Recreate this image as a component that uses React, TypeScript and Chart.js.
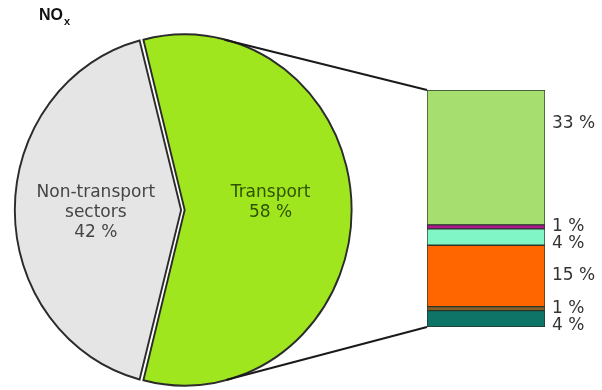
import React, { useEffect, useRef } from 'react';
import { Chart, registerables } from 'chart.js';

Chart.register(...registerables);

// ---- data ----
const pieCategories = ['Non-transport sectors', 'Transport'];
const pieValues = [42, 58];
const pieLabelLines = [['Non-transport', 'sectors'], ['Transport']];
const pieColors = ['#e5e5e5', '#a0e61e'];
const pieTextColors = ['#454545', '#2f5200'];
const pieOffsets = [8, 7];

// transport breakdown, listed bottom to top of the stacked bar
const transportParts = ['Part F', 'Part E', 'Part D', 'Part C', 'Part B', 'Part A'];
const transportValues = [4, 1, 15, 4, 1, 33];
const transportColors = ['#0f7468', '#86602a', '#ff6600', '#80f5c6', '#b01891', '#a6df6f'];

const X_SCALE = 0.95;
const FONT = '"DejaVu Sans", Verdana, sans-serif';

function arcCenter(arc: any) {
  const p = arc.getProps(['x', 'y', 'startAngle', 'endAngle', 'outerRadius'], true);
  const off = (arc.options.offset || 0) / 4;
  const circ = p.endAngle - p.startAngle;
  const fix = 1 - Math.sin(Math.min(Math.PI, circ));
  const t = off * (1 + fix);
  const half = (p.startAngle + p.endAngle) / 2;
  return {
    anchor: p.x,
    gx: p.x + Math.cos(half) * t,
    gy: p.y + Math.sin(half) * t,
    half,
    r: p.outerRadius,
  };
}

export default function App() {
  const pieRef = useRef<HTMLCanvasElement>(null);
  const barRef = useRef<HTMLCanvasElement>(null);

  useEffect(() => {
    const total = pieValues.reduce((a, b) => a + b, 0);
    const rotation = 270 - (pieValues[0] / total) * 360 / 2;

    const ellipsePlugin = {
      id: 'ellipse',
      beforeDatasetsDraw(chart: any) {
        const el = chart.getDatasetMeta(0).data[0];
        const ctx = chart.ctx;
        ctx.save();
        ctx.translate(el.x, 0);
        ctx.scale(X_SCALE, 1);
        ctx.translate(-el.x, 0);
      },
      afterDatasetsDraw(chart: any) {
        chart.ctx.restore();
      },
    };

    const pieLabelPlugin = {
      id: 'pieLabels',
      afterDraw(chart: any) {
        const ctx = chart.ctx;
        const meta = chart.getDatasetMeta(0);
        ctx.save();
        ctx.font = `17px ${FONT}`;
        ctx.textAlign = 'center';
        ctx.textBaseline = 'middle';
        meta.data.forEach((arc: any, i: number) => {
          const c = arcCenter(arc);
          const px = c.gx + Math.cos(c.half) * c.r * 0.51;
          const py = c.gy + Math.sin(c.half) * c.r * 0.51;
          const x = c.anchor + X_SCALE * (px - c.anchor);
          const lines = [...pieLabelLines[i], `${pieValues[i]} %`];
          ctx.fillStyle = pieTextColors[i];
          lines.forEach((ln, k) => ctx.fillText(ln, x, py - 17 + k * 20));
        });
        ctx.restore();
      },
    };

    const pieChart = new Chart(pieRef.current!, {
      type: 'pie',
      data: {
        labels: pieCategories,
        datasets: [
          {
            data: pieValues,
            backgroundColor: pieColors,
            borderColor: '#2b2b2b',
            borderWidth: 2,
            borderJoinStyle: 'miter',
            offset: pieOffsets,
            radius: 174,
          } as any,
        ],
      },
      options: {
        responsive: false,
        animation: false,
        events: [],
        rotation,
        layout: { padding: { left: 8, right: 244, top: 35, bottom: 5 } },
        plugins: { legend: { display: false }, tooltip: { enabled: false } },
      } as any,
      plugins: [ellipsePlugin, pieLabelPlugin],
    });

    const barLabelPlugin = {
      id: 'barLabels',
      afterDatasetsDraw(chart: any) {
        const ctx = chart.ctx;
        const items = chart.data.datasets.map((ds: any, i: number) => {
          const el = chart.getDatasetMeta(i).data[0];
          const top = Math.min(el.y, el.base);
          const bot = Math.max(el.y, el.base);
          const h = bot - top;
          const y = h > 100 ? top + h * 0.25 : (top + bot) / 2;
          return { y, x: el.x + el.width / 2 + 7, text: `${ds.data[0]} %` };
        });
        items.sort((a: any, b: any) => a.y - b.y);
        let prev = -Infinity;
        items.forEach((it: any) => {
          it.y = Math.max(it.y, prev + 17);
          prev = it.y;
        });
        ctx.save();
        ctx.font = `17px ${FONT}`;
        ctx.fillStyle = '#333333';
        ctx.textAlign = 'left';
        ctx.textBaseline = 'middle';
        items.forEach((it: any) => ctx.fillText(it.text, it.x, it.y));
        ctx.restore();
      },
    };

    const connectorPlugin = {
      id: 'connectors',
      afterDraw(chart: any) {
        const ctx = chart.ctx;
        const n = chart.data.datasets.length;
        const topEl = chart.getDatasetMeta(n - 1).data[0];
        const botEl = chart.getDatasetMeta(0).data[0];
        const left = topEl.x - topEl.width / 2;
        const corners = [
          { x: left, y: Math.min(topEl.y, topEl.base), sign: -1 },
          { x: left, y: Math.max(botEl.y, botEl.base), sign: 1 },
        ];
        const arc = pieChart.getDatasetMeta(0).data[1];
        const c = arcCenter(arc);
        const R = c.r + 1;
        ctx.save();
        ctx.strokeStyle = '#1a1a1a';
        ctx.lineWidth = 2;
        corners.forEach((p) => {
          const ux = (p.x - c.anchor) / X_SCALE + c.anchor;
          const vx = ux - c.gx;
          const vy = p.y - c.gy;
          const d = Math.hypot(vx, vy);
          const phi = Math.atan2(vy, vx);
          const alpha = Math.acos(Math.min(1, R / d));
          const ang = phi + p.sign * alpha;
          const tx = c.gx + Math.cos(ang) * R;
          const ty = c.gy + Math.sin(ang) * R;
          const sx = c.anchor + X_SCALE * (tx - c.anchor);
          ctx.beginPath();
          ctx.moveTo(sx, ty);
          ctx.lineTo(p.x, p.y);
          ctx.stroke();
        });
        ctx.restore();
      },
    };

    const barTotal = transportValues.reduce((a, b) => a + b, 0);
    const barChart = new Chart(barRef.current!, {
      type: 'bar',
      data: {
        labels: ['Transport'],
        datasets: transportValues.map((v, i) => ({
          label: transportParts[i],
          data: [v],
          backgroundColor: transportColors[i],
          borderColor: '#2b352b',
          borderWidth: 1,
          borderSkipped: false,
          barPercentage: 1,
          categoryPercentage: 1,
        })),
      },
      options: {
        responsive: false,
        animation: false,
        events: [],
        layout: { padding: { left: 427, right: 57, top: 90, bottom: 63 } },
        scales: {
          x: { stacked: true, display: false },
          y: { stacked: true, display: false, min: 0, max: barTotal },
        },
        plugins: { legend: { display: false }, tooltip: { enabled: false } },
      } as any,
      plugins: [barLabelPlugin, connectorPlugin],
    });

    return () => {
      barChart.destroy();
      pieChart.destroy();
    };
  }, []);

  return (
    <div style={{ position: 'absolute', left: 0, top: 0, width: 602, height: 390, background: '#ffffff' }}>
      <canvas ref={pieRef} width={602} height={390} style={{ position: 'absolute', left: 0, top: 0 }} />
      <canvas ref={barRef} width={602} height={390} style={{ position: 'absolute', left: 0, top: 0 }} />
      <div
        style={{
          position: 'absolute',
          left: 39,
          top: 6,
          font: 'bold 16px "Liberation Sans", Arial, sans-serif',
          color: '#111111',
          whiteSpace: 'nowrap',
        }}
      >
        NO
        <span style={{ fontSize: 11, position: 'relative', top: 5, marginLeft: 1 }}>x</span>
      </div>
    </div>
  );
}
